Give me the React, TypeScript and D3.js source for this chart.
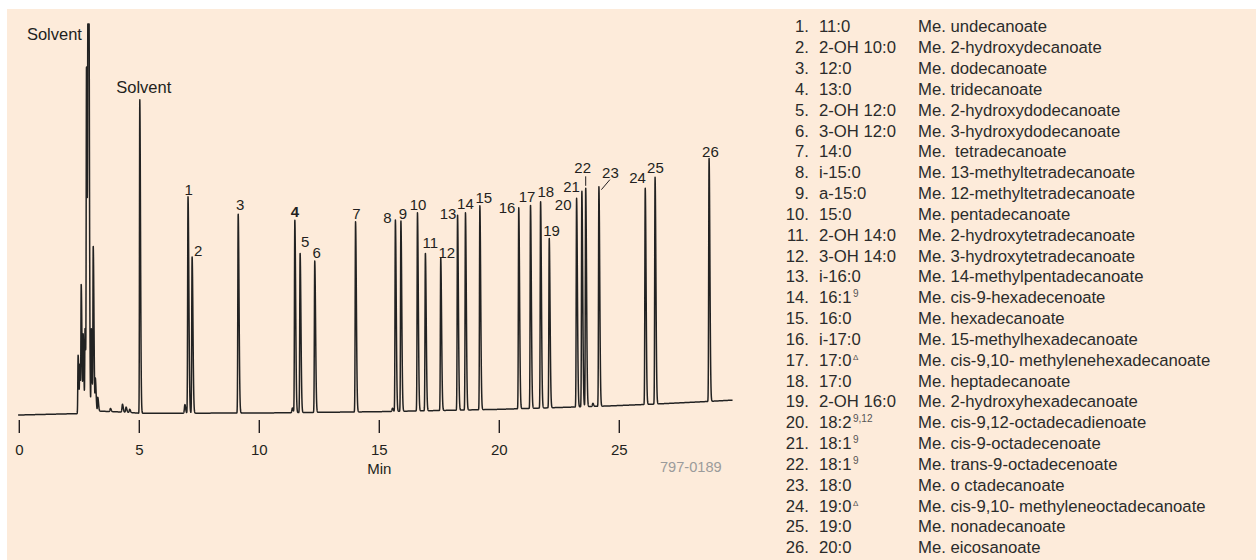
import React from "react";
import * as d3 from "d3";

// retention time (min) and apex level (0 = start baseline, 100 = top of solvent)
const peakIds = ["1", "2", "3", "4", "5", "6", "7", "8", "9", "10", "11", "12", "13",
  "14", "15", "16", "17", "18", "19", "20", "21", "22", "23", "24", "25", "26"];
const peakTimes = [7.03, 7.2, 9.12, 11.48, 11.7, 12.31, 14.01, 15.67, 15.9, 16.59, 16.92, 17.56, 18.26,
  18.59, 19.19, 20.81, 21.3, 21.72, 22.08, 23.22, 23.44, 23.6, 24.15, 26.08, 26.49, 28.74];
const peakApex = [55.8, 40.5, 51.4, 49.9, 41.4, 39.4, 49.4, 49.9, 49.7, 51.7, 41.4, 40.2, 51.2,
  51.7, 53.5, 53.0, 53.7, 54.6, 45.2, 55.5, 57.3, 58.1, 58.4, 58.1, 60.8, 65.7];

// solvent cluster
const solventTimes = [2.45, 2.52, 2.58, 2.66, 2.74, 2.8, 2.86, 2.89, 3.0, 3.08, 3.17, 3.27, 5.02];
const solventApex = [15.3, 12, 32, 20, 21.7, 86.7, 100, 100, 22, 42.7, 9, 4.5, 80.8];
const solventLabelled = [6, 12];

// small bumps on the baseline
const minorTimes = [3.8, 4.3, 4.45, 4.6, 6.9, 11.38, 15.55, 23.9];
const minorHeights = [0.8, 2.0, 1.3, 0.8, 2.2, 1.2, 0.8, 0.8];

// baseline drift
const baselineTimes = [0, 2.4, 3.3, 4.5, 5, 10, 15, 20, 24.5, 26.5, 28.5, 29.7];
const baselineLevels = [0, 0.35, 1.0, 0.7, 0.45, 0.5, 0.85, 1.45, 2.3, 2.8, 3.4, 3.8];

const timeTicks = [0, 5, 10, 15, 20, 25];

const legendShort = ["11:0", "2-OH 10:0", "12:0", "13:0", "2-OH 12:0", "3-OH 12:0", "14:0",
  "i-15:0", "a-15:0", "15:0", "2-OH 14:0", "3-OH 14:0", "i-16:0", "16:1^9", "16:0", "i-17:0",
  "17:0^Δ", "17:0", "2-OH 16:0", "18:2^9,12", "18:1^9", "18:1^9", "18:0", "19:0^Δ", "19:0", "20:0"];
const legendName = ["Me. undecanoate", "Me. 2-hydroxydecanoate", "Me. dodecanoate", "Me. tridecanoate",
  "Me. 2-hydroxydodecanoate", "Me. 3-hydroxydodecanoate", "Me.  tetradecanoate",
  "Me. 13-methyltetradecanoate", "Me. 12-methyltetradecanoate", "Me. pentadecanoate",
  "Me. 2-hydroxytetradecanoate", "Me. 3-hydroxytetradecanoate", "Me. 14-methylpentadecanoate",
  "Me. cis-9-hexadecenoate", "Me. hexadecanoate", "Me. 15-methylhexadecanoate",
  "Me. cis-9,10- methylenehexadecanoate", "Me. heptadecanoate", "Me. 2-hydroxyhexadecanoate",
  "Me. cis-9,12-octadecadienoate", "Me. cis-9-octadecenoate", "Me. trans-9-octadecenoate",
  "Me. o ctadecanoate", "Me. cis-9,10- methyleneoctadecanoate", "Me. nonadecanoate", "Me. eicosanoate"];

// label nudges relative to each apex [dx, dy]
const labelNudge: [number, number][] = [
  [0.7, -1.7], [6, -0.7], [2, -4], [0, -2.7], [5, -5.7], [2, -2.7], [1, -2.4], [-8, 3], [2, -2],
  [0.6, -3], [5, -5], [6, 0], [-9.4, 4], [0, -3.7], [4, -3], [-11.7, 5], [-3.4, -3], [5.3, -5],
  [2.4, -2], [-13.4, 12], [-10.3, 0.7], [-3, -15], [11.5, -8.7], [-7.6, -4.7], [0.4, -4], [1.4, -1.3]];

const INK = "#231f20";
const FONT = "'Liberation Sans', Arial, Helvetica, sans-serif";

export default function App() {
  const W = 1256, H = 560;
  const x = d3.scaleLinear().domain([0, 25]).range([19.3, 619.3]);
  const y = d3.scaleLinear().domain([0, 100]).range([415, 24]);
  const base = d3.scaleLinear().domain(baselineTimes).range(baselineLevels).clamp(true);

  const bands: { t: number; a: number; sl: number; sr: number }[] = [];
  peakTimes.forEach((t, i) => bands.push({ t, a: peakApex[i] - base(t), sl: 0.015, sr: 0.034 }));
  solventTimes.forEach((t, i) => bands.push({ t, a: solventApex[i] - base(t), sl: 0.012, sr: 0.03 }));
  minorTimes.forEach((t, i) => bands.push({ t, a: minorHeights[i], sl: 0.02, sr: 0.03 }));

  const signal = (t: number) => {
    let v = base(t);
    for (const b of bands) {
      const dt = t - b.t;
      if (Math.abs(dt) > 0.3) continue;
      const s = dt < 0 ? b.sl : b.sr;
      v += b.a * Math.exp(-(dt * dt) / (2 * s * s));
    }
    return Math.min(v, 100);
  };

  const times = d3.range(-0.05, 29.72, 0.004);
  const line = d3.line<number>().x((t) => x(t)).y((t) => y(signal(t)));
  const path = line(times) || "";

  const rowY = (i: number) => 32.3 + 20.84 * i;

  return (
    <div style={{ position: "absolute", left: 0, top: 0 }}>
      <svg width={W} height={H} style={{ display: "block", fontFamily: FONT }}>
        <rect x={0} y={0} width={W} height={H} fill="#ffffff" />
        <rect x={7} y={9} width={W - 7} height={H - 9} fill="#fdebda" />

        <path d={path} fill="none" stroke="#222" strokeWidth={1.5} strokeLinejoin="round" />

        {timeTicks.map((t) => (
          <g key={t}>
            <line x1={x(t)} x2={x(t)} y1={420} y2={433} stroke={INK} strokeWidth={1.4} />
            <text x={x(t)} y={455} fontSize={15} textAnchor="middle" fill={INK}>{t}</text>
          </g>
        ))}
        <text x={x(15)} y={474} fontSize={15} textAnchor="middle" fill={INK}>Min</text>
        <text x={660} y={472} fontSize={14.6} fill="#9b9b9b">797-0189</text>

        <text x={x(solventTimes[solventLabelled[0]]) - 6} y={y(solventApex[solventLabelled[0]]) + 15.5}
          fontSize={16.5} textAnchor="end" fill={INK}>Solvent</text>
        <text x={x(solventTimes[solventLabelled[1]]) + 4} y={y(solventApex[solventLabelled[1]]) - 6.5}
          fontSize={16.5} textAnchor="middle" fill={INK}>Solvent</text>

        {peakIds.map((id, i) => {
          const px = x(peakTimes[i]);
          const py = y(peakApex[i]);
          const [dx, dy] = labelNudge[i];
          return (
            <text key={id} x={px + dx} y={py + dy} fontSize={15} textAnchor="middle" fill={INK}
              fontWeight={id === "4" ? "bold" : "normal"}>{id}</text>
          );
        })}
        {/* leaders for the crowded 22 / 23 */}
        <line x1={x(peakTimes[21])} x2={x(peakTimes[21])} y1={y(peakApex[21]) - 2} y2={y(peakApex[21]) - 11.5}
          stroke={INK} strokeWidth={1} />
        <line x1={x(peakTimes[22]) + 2.5} y1={y(peakApex[22]) + 3} x2={x(peakTimes[22]) + 11} y2={y(peakApex[22]) - 7}
          stroke={INK} strokeWidth={1} />

        <g fontSize={16.7} fill="#2b2b2b">
          {legendShort.map((s, i) => {
            const [main, sup] = s.split("^");
            return (
              <g key={i}>
                <text x={809} y={rowY(i)} textAnchor="end">{`${i + 1}.`}</text>
                <text x={819} y={rowY(i)}>
                  {main}
                  {sup && (
                    <tspan dx={1.5} dy={-6} fontSize={sup === "Δ" ? 8 : 10} fill="#555">{sup}</tspan>
                  )}
                </text>
                <text x={918} y={rowY(i)} style={{ whiteSpace: "pre" }}>{legendName[i]}</text>
              </g>
            );
          })}
        </g>
      </svg>
    </div>
  );
}
